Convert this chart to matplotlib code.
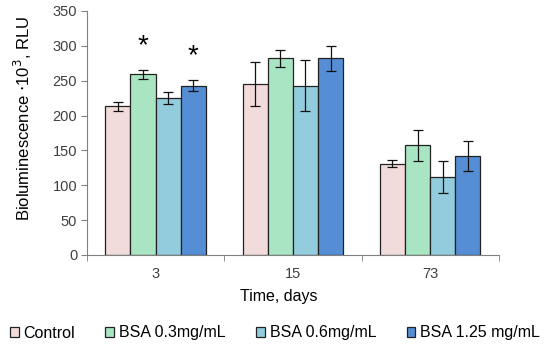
import numpy as np
import matplotlib.pyplot as plt

plt.rcParams['font.family'] = ['Liberation Sans', 'DejaVu Sans']

# data
days = ['3', '15', '73']
groups = ['Control', 'BSA 0.3mg/mL', 'BSA 0.6mg/mL', 'BSA 1.25 mg/mL']
means = [
    [213, 245, 131],   # Control
    [259, 282, 157],   # BSA 0.3
    [225, 243, 112],   # BSA 0.6
    [243, 282, 142],   # BSA 1.25
]
errs = [
    [6.5, 32, 5.5],
    [7, 12.5, 22.5],
    [9, 36, 23],
    [8, 17.5, 21.5],
]
colors = ['#f2dcdb', '#a9e5c3', '#93cddd', '#558ed5']
# significance stars: (day index, group index, height)
stars = [(0, 1, 300), (0, 3, 285)]

fig = plt.figure(figsize=(5.5, 3.54), dpi=100)
ax = fig.add_axes([0.158, 0.28, 0.749, 0.689])

x = np.arange(len(days))
w = 0.183
for i, g in enumerate(groups):
    pos = x + (i - 1.5) * w
    ax.bar(pos, means[i], w, color=colors[i], edgecolor='#222222', linewidth=0.9,
           label=g, zorder=2)
    ax.errorbar(pos, means[i], yerr=errs[i], fmt='none', ecolor='#111111',
                elinewidth=0.9, capsize=3.5, capthick=0.9, zorder=3)

for d, g, h in stars:
    ax.text(x[d] + (g - 1.5) * w, h, '*', ha='center', va='center', fontsize=20)

ax.set_xlim(-0.5, 2.5)
ax.set_ylim(0, 350)
ax.set_yticks(range(0, 351, 50))
ax.set_xticks(x)
ax.set_xticklabels(days)
ax.set_xticks([-0.5, 0.5, 1.5, 2.5], minor=True)
ax.tick_params(axis='x', which='major', length=0, pad=9)
ax.tick_params(axis='x', which='minor', length=4, color='#808080')
ax.tick_params(axis='y', length=4, color='#808080', pad=3)
ax.tick_params(labelsize=10.5, labelcolor='#404040')
for s in ['top', 'right']:
    ax.spines[s].set_visible(False)
for s in ['left', 'bottom']:
    ax.spines[s].set_color('#808080')

ax.set_ylabel('Bioluminescence $\\cdot$10$^3$, RLU', fontsize=12)
ax.yaxis.set_label_coords(-0.128, 0.56)
fig.text(279 / 550, 1 - 297 / 354, 'Time, days', ha='center', va='center',
         fontsize=11.5)

fig.legend(loc='center', bbox_to_anchor=(0.5, 1 - 333 / 354), ncol=4, frameon=False,
           fontsize=11.5, handlelength=0.55, handleheight=0.55, handletextpad=0.3,
           columnspacing=1.9)

fig.savefig('out.png', dpi=100)
